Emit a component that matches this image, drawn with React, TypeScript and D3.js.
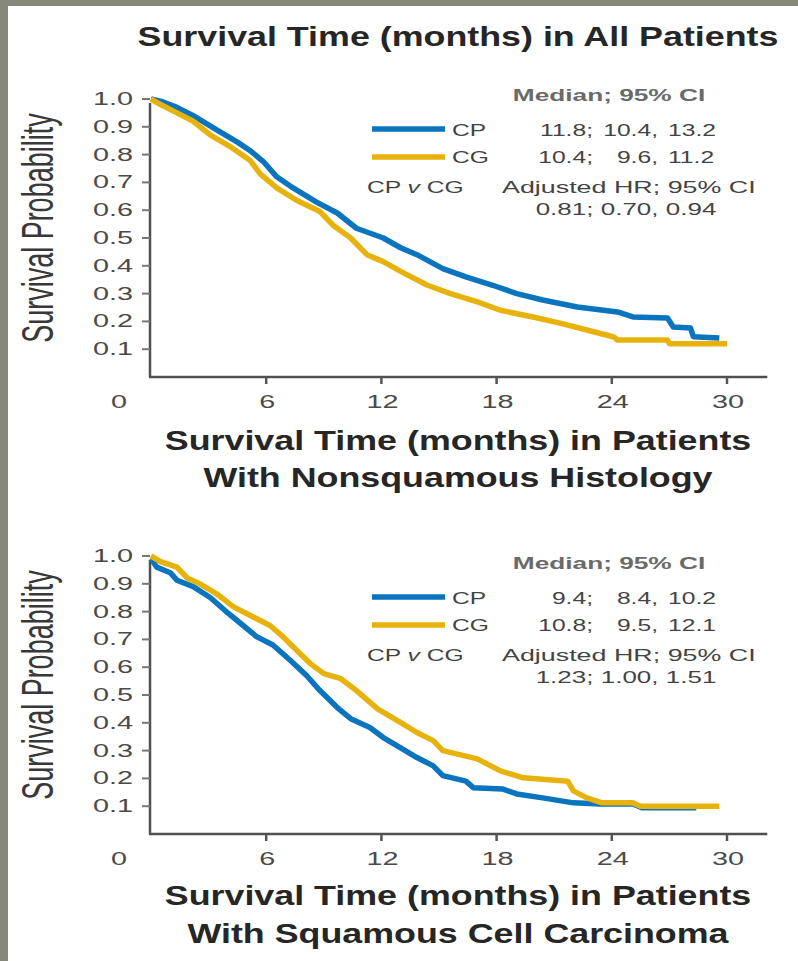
import React from "react";
import * as d3 from "d3";

type Pt = [number, number];

const FONT = "'Liberation Sans', Arial, Helvetica, sans-serif";

const xTicks = [6, 12, 18, 24, 30];
const yTicks = [0.1, 0.2, 0.3, 0.4, 0.5, 0.6, 0.7, 0.8, 0.9, 1.0];
const arms = ["CP", "CG"];
const armColors = ["#0a74be", "#e8b20c"];

// months, survival probability
const allCP: Pt[] = [
  [0, 1.0], [0.6, 0.99], [1.35, 0.97], [2.2, 0.94], [3.4, 0.89], [4.5, 0.845],
  [5.15, 0.815], [5.85, 0.775], [6.55, 0.72], [7.4, 0.68], [8.6, 0.63], [9.7, 0.59],
  [10.7, 0.535], [12.1, 0.5], [13.0, 0.465], [13.85, 0.44], [15.2, 0.39], [16.4, 0.36],
  [17.8, 0.33], [19.05, 0.3], [20.4, 0.277], [22.2, 0.252], [24.3, 0.234], [25.1, 0.216],
  [26.9, 0.212], [27.2, 0.18], [28.1, 0.176], [28.25, 0.145], [29.6, 0.14],
];
const allCG: Pt[] = [
  [0, 1.0], [0.5, 0.98], [1.35, 0.95], [2.2, 0.92], [3.1, 0.87], [4.1, 0.83],
  [5.15, 0.78], [5.7, 0.73], [6.55, 0.68], [7.6, 0.635], [8.8, 0.595], [9.5, 0.545],
  [10.4, 0.5], [11.25, 0.44], [12.1, 0.415], [13.0, 0.38], [14.4, 0.33], [15.6, 0.3],
  [17.0, 0.27], [18.2, 0.24], [19.9, 0.216], [21.3, 0.194], [22.7, 0.169], [24.1, 0.144],
  [24.3, 0.133], [26.9, 0.133], [27.0, 0.12], [30.0, 0.12],
];
const nonsqCP: Pt[] = [
  [0, 0.99], [0.3, 0.96], [1.0, 0.94], [1.35, 0.913], [2.2, 0.89], [3.1, 0.85],
  [4.0, 0.795], [4.8, 0.75], [5.5, 0.71], [6.35, 0.68], [7.25, 0.625], [8.1, 0.57],
  [8.8, 0.516], [9.7, 0.455], [10.4, 0.415], [11.4, 0.383], [12.1, 0.347], [13.0, 0.31],
  [13.85, 0.275], [14.7, 0.245], [15.2, 0.21], [16.4, 0.19], [16.8, 0.166], [18.3, 0.162],
  [19.05, 0.144], [20.4, 0.13], [22.0, 0.112], [23.4, 0.108], [25.1, 0.108], [25.6, 0.094],
  [28.4, 0.094],
];
const nonsqCG: Pt[] = [
  [0, 1.0], [0.5, 0.98], [1.35, 0.96], [1.9, 0.92], [2.55, 0.9], [3.4, 0.865],
  [4.3, 0.817], [5.15, 0.787], [6.2, 0.75], [6.9, 0.708], [7.6, 0.66], [8.3, 0.613],
  [9.0, 0.577], [9.85, 0.56], [10.7, 0.516], [11.8, 0.45], [13.1, 0.397], [13.85, 0.365],
  [14.7, 0.336], [15.2, 0.3], [17.0, 0.27], [18.2, 0.227], [19.4, 0.202], [21.7, 0.19],
  [22.0, 0.155], [22.7, 0.13], [23.5, 0.112], [25.1, 0.112], [25.5, 0.1], [29.6, 0.1],
];

const allMedian = [["11.8;", "10.4,", "13.2"], ["10.4;", "9.6,", "11.2"]];
const nonsqMedian = [["9.4;", "8.4,", "10.2"], ["10.8;", "9.5,", "12.1"]];
const allHR = "0.81; 0.70, 0.94";
const nonsqHR = "1.23; 1.00, 1.51";

const titles = [
  ["Survival Time (months) in All Patients"],
  ["Survival Time (months) in Patients", "With Nonsquamous Histology"],
  ["Survival Time (months) in Patients", "With Squamous Cell Carcinoma"],
];

function Txt({ x, y, sx = 1, size, anchor = "start", weight = "normal", fill = "#444", children }: any) {
  return (
    <text
      transform={`translate(${x},${y}) scale(${sx},1)`}
      fontSize={size}
      textAnchor={anchor}
      fontWeight={weight}
      fill={fill}
      fontFamily={FONT}
    >
      {children}
    </text>
  );
}

function Panel({ top, legendTop, series, medians, hr }: any) {
  const x = d3.scaleLinear().domain([0, 30]).range([151, 727]);
  const y = d3.scaleLinear().domain([0, 1]).range([top + 278, top]);
  const line = d3.line<Pt>().x(d => x(d[0])).y(d => y(d[1]));
  const x0 = x(0) - 1;
  const lg = legendTop;

  return (
    <g>
      {/* axes */}
      <line x1={x0} x2={x0} y1={y(1) + 4} y2={y(0)} stroke="#505050" strokeWidth={2.5} />
      <line x1={x0 - 1} x2={x(32.1)} y1={y(0)} y2={y(0)} stroke="#505050" strokeWidth={2.5} />
      {yTicks.map(t => (
        <g key={t}>
          <line x1={x0 - 8} x2={x0} y1={y(t)} y2={y(t)} stroke="#777" strokeWidth={2} />
          <Txt x={133} y={y(t) + 6} size={18} sx={1.6} anchor="end" fill="#4a4a4a">
            {t.toFixed(1)}
          </Txt>
        </g>
      ))}
      {xTicks.map(t => (
        <g key={t}>
          <line x1={x(t)} x2={x(t)} y1={y(0)} y2={y(0) + 7} stroke="#555" strokeWidth={2.5} />
          <Txt x={x(t) + 1} y={y(0) + 31} size={18} sx={1.6} anchor="middle" fill="#4a4a4a">
            {t}
          </Txt>
        </g>
      ))}
      <Txt x={x(0) - 32} y={y(0) + 31} size={18} sx={1.6} anchor="middle" fill="#4a4a4a">0</Txt>
      <text
        transform={`translate(53,${(y(0.1) + y(1)) / 2 + 4}) rotate(-90) scale(0.6,1)`}
        fontSize={45}
        textAnchor="middle"
        fill="#383838"
        fontFamily={FONT}
      >
        Survival Probability
      </text>

      {/* curves */}
      {series.map((s: Pt[], i: number) => (
        <path key={i} d={line(s) || ""} fill="none" stroke={armColors[i]} strokeWidth={5.5}
          strokeLinejoin="round" />
      ))}

      {/* legend */}
      <Txt x={609} y={lg + 2} size={16} sx={1.64} anchor="middle" weight="bold" fill="#6a6a6a">
        Median; 95% CI
      </Txt>
      {arms.map((a, i) => (
        <g key={a}>
          <line x1={372} x2={445} y1={lg + 30 + i * 28} y2={lg + 30 + i * 28}
            stroke={armColors[i]} strokeWidth={5.5} />
          <Txt x={452} y={lg + 37 + i * 27} size={17} sx={1.45} fill="#444">{a}</Txt>
          <Txt x={593} y={lg + 37 + i * 27} size={17} sx={1.45} anchor="end" fill="#444">{medians[i][0]}</Txt>
          <Txt x={658} y={lg + 37 + i * 27} size={17} sx={1.45} anchor="end" fill="#444">{medians[i][1]}</Txt>
          <Txt x={668} y={lg + 37 + i * 27} size={17} sx={1.45} fill="#444">{medians[i][2]}</Txt>
        </g>
      ))}
      <Txt x={367} y={lg + 94} size={17} sx={1.45} fill="#444">
        CP <tspan fontStyle="italic">v</tspan> CG
      </Txt>
      <Txt x={502} y={lg + 94} size={17} sx={1.58} fill="#444">Adjusted HR; 95% CI</Txt>
      <Txt x={626} y={lg + 116} size={17} sx={1.53} anchor="middle" fill="#444">{hr}</Txt>
    </g>
  );
}

export default function App() {
  const titleY = [[46], [450, 487], [905, 943]];
  return (
    <div style={{ position: "absolute", left: 0, top: 0 }}>
      <svg width={798} height={961} style={{ display: "block" }}>
        <rect x={0} y={0} width={798} height={961} fill="#86887c" />
        <rect x={8} y={6} width={790} height={955} fill="#ffffff" />
        {titles.map((lines, i) =>
          lines.map((l, j) => (
            <Txt key={`${i}-${j}`} x={458} y={titleY[i][j]} size={28} sx={1.28}
              anchor="middle" weight="bold" fill="#262626">
              {l}
            </Txt>
          ))
        )}
        <Panel top={99} legendTop={99} series={[allCP, allCG]} medians={allMedian} hr={allHR} />
        <Panel top={556} legendTop={567} series={[nonsqCP, nonsqCG]} medians={nonsqMedian} hr={nonsqHR} />
      </svg>
    </div>
  );
}
